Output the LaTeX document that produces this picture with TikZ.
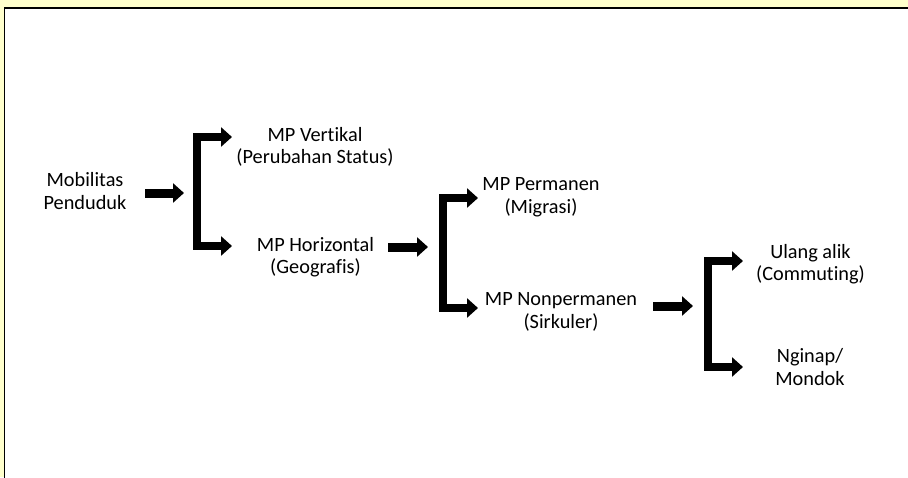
\documentclass[tikz,border=0pt]{standalone}
\usepackage{fontspec}
\setmainfont[Ligatures={NoCommon}]{Carlito}
\usetikzlibrary{arrows.meta}
\definecolor{bgyellow}{RGB}{255,255,204}
\tikzset{
  lbl/.style={align=center, inner sep=0pt, font=\fontsize{20.3}{22.5}\selectfont},
  fatarrow/.style={line width=9pt, line join=miter, -{Triangle[width=19pt,length=11pt]}},
  bracketarrow/.style={line width=8.5pt, line join=miter, {Triangle[width=19pt,length=11pt]}-{Triangle[width=19pt,length=11pt]}}
}
\begin{document}
\begin{tikzpicture}[x=1pt,y=-1pt]
\useasboundingbox (0,0) rectangle (908,477);
\clip (0,0) rectangle (908,477);
\fill[bgyellow] (0,0) rectangle (908,477);
\draw[line width=1.3pt, fill=white] (4.5,8) rectangle (915,485);

% texts
\node[lbl] (mob) at (85,191) {Mobilitas\\Penduduk};
\node[lbl] (vert) at (315,147) {MP Vertikal\\(Perubahan Status)};
\node[lbl] (hor) at (315.5,257) {MP Horizontal\\(Geografis)};
\node[lbl] (perm) at (541,197) {MP Permanen\\(Migrasi)};
\node[lbl] (nonp) at (561,312) {MP Nonpermanen\\(Sirkuler)};
\node[lbl] (ulang) at (810.5,264) {Ulang alik\\(Commuting)};
\node[lbl] (ngin) at (810,367) {Nginap/\\Mondok};

% coordinates
\coordinate (a1s) at (145,193);
\coordinate (a1e) at (184,193);
\coordinate (b1t) at (232,137);
\coordinate (b1b) at (232,246);
\coordinate (a2s) at (388,247);
\coordinate (a2e) at (428,247);
\coordinate (b2t) at (478,198);
\coordinate (b2b) at (478,308);
\coordinate (a3s) at (653,306);
\coordinate (a3e) at (693,306);
\coordinate (b3t) at (743,261);
\coordinate (b3b) at (743,367);

\draw[fatarrow] (a1s) -- (a1e);
\draw[bracketarrow] (b1t) -- ++(-35,0) |- (b1b);
\draw[fatarrow] (a2s) -- (a2e);
\draw[bracketarrow] (b2t) -- ++(-35,0) |- (b2b);
\draw[fatarrow] (a3s) -- (a3e);
\draw[bracketarrow] (b3t) -- ++(-35,0) |- (b3b);
\end{tikzpicture}
\end{document}
